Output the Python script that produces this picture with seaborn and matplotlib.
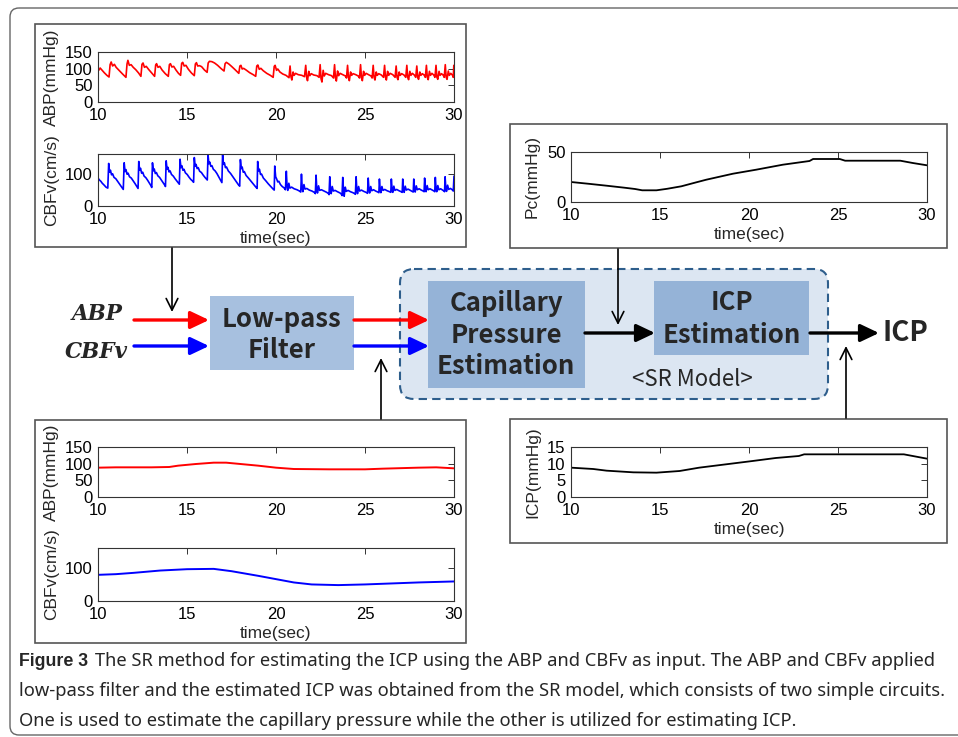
import matplotlib
matplotlib.use("Agg")
import matplotlib.pyplot as plt
import seaborn as sns
import pandas as pd
from matplotlib.patches import FancyBboxPatch, Rectangle, FancyArrowPatch

# ---------------- data ----------------
time_ticks = [10, 15, 20, 25, 30]

abp_raw = [
    (10.00, 100), (10.06, 96), (10.12, 102), (10.20, 97), (10.35, 88), (10.50, 80), (10.62, 75),
    (10.68, 112), (10.74, 120), (10.82, 108), (10.92, 113), (11.02, 104), (11.18, 95), (11.38, 84), (11.57, 74),
    (11.63, 114), (11.68, 125), (11.76, 110), (11.86, 112), (11.98, 104), (12.12, 97), (12.28, 87), (12.41, 77),
    (12.47, 113), (12.53, 117), (12.61, 104), (12.71, 107), (12.84, 98), (13.00, 88), (13.18, 77),
    (13.24, 111), (13.29, 115), (13.37, 104), (13.47, 107), (13.60, 96), (13.78, 85), (13.95, 77),
    (14.01, 112), (14.07, 115), (14.15, 105), (14.25, 107), (14.38, 96), (14.52, 86), (14.64, 80),
    (14.70, 116), (14.76, 119), (14.84, 108), (14.94, 110), (15.08, 98), (15.25, 87), (15.41, 79),
    (15.47, 114), (15.53, 118), (15.60, 108), (15.70, 109), (15.82, 106), (15.98, 96), (16.13, 89),
    (16.19, 117), (16.26, 122), (16.40, 121), (16.55, 117), (16.72, 110), (16.92, 100), (17.08, 93),
    (17.14, 115), (17.21, 119), (17.35, 114), (17.50, 107), (17.68, 98), (17.91, 86),
    (17.97, 108), (18.03, 110), (18.10, 99), (18.18, 101), (18.32, 96), (18.52, 88), (18.72, 82), (18.86, 77),
    (18.92, 108), (18.98, 111), (19.06, 98), (19.15, 101), (19.28, 94), (19.48, 86), (19.68, 80), (19.84, 74),
    (19.90, 107), (19.95, 110), (20.03, 95), (20.10, 99), (20.22, 90), (20.38, 84), (20.56, 80), (20.73, 73),
    (20.79, 108), (20.84, 76), (20.89, 66), (20.96, 90), (21.02, 80), (21.10, 86), (21.25, 82), (21.45, 80), (21.60, 76),
    (21.67, 110), (21.72, 74), (21.77, 64), (21.84, 92), (21.90, 79), (21.98, 85), (22.12, 81), (22.30, 79), (22.42, 74),
    (22.48, 112), (22.53, 70), (22.58, 60), (22.65, 95), (22.71, 78), (22.79, 86), (22.95, 82), (23.12, 79), (23.23, 72),
    (23.29, 112), (23.34, 72), (23.39, 63), (23.46, 93), (23.52, 79), (23.60, 86), (23.75, 82), (23.90, 78), (23.96, 72),
    (24.02, 110), (24.07, 74), (24.12, 64), (24.19, 90), (24.25, 80), (24.33, 85), (24.48, 82), (24.62, 78), (24.69, 72),
    (24.75, 112), (24.80, 73), (24.85, 64), (24.92, 92), (24.98, 80), (25.06, 86), (25.20, 82), (25.34, 78), (25.40, 72),
    (25.46, 110), (25.51, 74), (25.56, 66), (25.63, 90), (25.69, 80), (25.77, 85), (25.92, 81), (26.04, 74),
    (26.10, 110), (26.15, 74), (26.20, 66), (26.27, 92), (26.33, 80), (26.41, 86), (26.56, 82), (26.69, 74),
    (26.75, 108), (26.80, 74), (26.85, 67), (26.92, 90), (26.98, 80), (27.06, 85), (27.19, 81), (27.29, 74),
    (27.35, 110), (27.40, 74), (27.45, 67), (27.52, 92), (27.58, 80), (27.66, 86), (27.77, 81), (27.85, 74),
    (27.91, 108), (27.96, 74), (28.01, 68), (28.08, 90), (28.14, 80), (28.22, 85), (28.32, 81), (28.39, 74),
    (28.45, 110), (28.50, 74), (28.55, 67), (28.62, 92), (28.68, 80), (28.76, 86), (28.86, 81), (28.93, 74),
    (28.99, 110), (29.04, 74), (29.09, 68), (29.16, 92), (29.22, 80), (29.30, 85), (29.40, 80), (29.45, 74),
    (29.51, 112), (29.56, 74), (29.61, 68), (29.68, 93), (29.74, 80), (29.82, 86), (29.92, 80), (29.96, 74),
    (29.99, 110), (30.00, 90),
]

cbfv_raw = [
    (10.00, 86), (10.08, 80), (10.16, 76), (10.24, 70), (10.35, 64), (10.45, 58), (10.55, 55),
    (10.60, 131), (10.65, 104), (10.70, 110), (10.76, 96), (10.82, 99), (10.90, 88), (11.00, 84), (11.10, 76), (11.22, 66), (11.32, 58), (11.42, 51),
    (11.47, 133), (11.52, 106), (11.57, 112), (11.63, 98), (11.69, 101), (11.77, 90), (11.87, 86), (11.97, 78), (12.08, 69), (12.17, 61), (12.25, 54),
    (12.29, 137), (12.34, 110), (12.39, 116), (12.45, 101), (12.51, 104), (12.59, 92), (12.69, 87), (12.79, 79), (12.89, 70), (12.97, 63), (13.02, 57),
    (13.06, 133), (13.11, 108), (13.16, 114), (13.22, 100), (13.28, 103), (13.36, 93), (13.46, 88), (13.56, 80), (13.66, 72), (13.74, 65), (13.79, 60),
    (13.83, 139), (13.88, 113), (13.93, 119), (13.99, 105), (14.05, 108), (14.13, 97), (14.23, 92), (14.33, 84), (14.43, 77), (14.52, 71), (14.57, 67),
    (14.61, 144), (14.66, 118), (14.71, 124), (14.77, 110), (14.83, 113), (14.91, 102), (15.01, 97), (15.11, 89), (15.21, 82), (15.31, 77), (15.37, 73),
    (15.41, 149), (15.46, 122), (15.51, 128), (15.57, 115), (15.63, 118), (15.71, 107), (15.81, 103), (15.91, 95), (16.01, 88), (16.09, 83), (16.14, 80),
    (16.18, 158), (16.23, 130), (16.28, 135), (16.34, 122), (16.40, 124), (16.48, 113), (16.58, 108), (16.68, 100), (16.78, 90), (16.88, 80), (16.96, 72),
    (17.00, 160), (17.05, 128), (17.10, 133), (17.16, 118), (17.22, 120), (17.32, 108), (17.45, 100), (17.60, 88), (17.75, 76), (17.88, 66), (17.96, 61),
    (18.00, 143), (18.05, 115), (18.10, 120), (18.16, 104), (18.22, 106), (18.32, 94), (18.45, 86), (18.60, 76), (18.75, 66), (18.87, 58), (18.94, 54),
    (18.97, 137), (19.02, 108), (19.07, 113), (19.13, 97), (19.19, 98), (19.29, 86), (19.42, 78), (19.57, 68), (19.72, 59), (19.84, 52), (19.90, 49),
    (19.93, 123), (19.98, 90), (20.03, 84), (20.10, 74), (20.16, 76), (20.25, 66), (20.35, 60), (20.45, 56), (20.53, 50),
    (20.58, 107), (20.62, 62), (20.66, 48), (20.72, 70), (20.78, 55), (20.88, 58), (21.02, 53), (21.18, 50), (21.32, 46), (21.39, 43),
    (21.43, 98), (21.47, 58), (21.51, 44), (21.57, 66), (21.63, 52), (21.73, 54), (21.87, 49), (22.02, 46), (22.15, 42), (22.21, 38),
    (22.25, 95), (22.29, 55), (22.33, 40), (22.39, 62), (22.45, 48), (22.55, 50), (22.70, 46), (22.85, 42), (22.95, 38), (22.98, 35),
    (23.02, 90), (23.06, 52), (23.10, 38), (23.16, 60), (23.22, 46), (23.32, 48), (23.45, 44), (23.60, 40), (23.68, 36), (23.71, 32),
    (23.75, 88), (23.79, 50), (23.83, 30), (23.89, 58), (23.95, 45), (24.05, 48), (24.18, 44), (24.32, 41), (24.42, 38), (24.46, 36),
    (24.50, 90), (24.54, 52), (24.58, 38), (24.64, 60), (24.70, 46), (24.80, 49), (24.93, 45), (25.06, 42), (25.14, 39),
    (25.18, 86), (25.22, 52), (25.26, 40), (25.32, 60), (25.38, 47), (25.48, 50), (25.60, 46), (25.72, 43), (25.78, 41),
    (25.81, 83), (25.85, 52), (25.89, 41), (25.95, 60), (26.01, 48), (26.11, 51), (26.24, 47), (26.38, 44), (26.45, 42),
    (26.48, 83), (26.52, 53), (26.56, 42), (26.62, 61), (26.68, 48), (26.78, 51), (26.91, 47), (27.03, 44), (27.09, 42),
    (27.12, 83), (27.16, 53), (27.20, 42), (27.26, 61), (27.32, 49), (27.42, 52), (27.55, 48), (27.66, 45), (27.71, 43),
    (27.74, 83), (27.78, 54), (27.82, 43), (27.88, 62), (27.94, 50), (28.04, 53), (28.16, 49), (28.27, 46), (28.32, 44),
    (28.35, 86), (28.39, 55), (28.43, 44), (28.49, 63), (28.55, 50), (28.65, 53), (28.78, 49), (28.88, 46), (28.92, 44),
    (28.95, 88), (28.99, 55), (29.03, 44), (29.09, 63), (29.15, 50), (29.25, 53), (29.36, 49), (29.44, 46), (29.47, 44),
    (29.50, 90), (29.54, 56), (29.58, 45), (29.64, 64), (29.70, 51), (29.80, 54), (29.90, 50), (29.96, 46), (30.00, 92),
]

pc_t = [10, 11, 12, 13, 13.6, 14.0, 14.8, 15.4, 16.2, 17.0, 17.6, 18.4, 19.1, 20.4, 21.9, 23.4, 23.6, 25.1, 25.4, 28.5, 29.2, 30.0]
pc_v = [20, 18.2, 16.3, 14.3, 13.0, 11.7, 11.7, 13.2, 15.7, 19.5, 22.3, 25.5, 28.3, 32.3, 37.3, 41.0, 43.0, 43.0, 41.3, 41.3, 39.0, 36.7]

abp_f_t = [10, 11, 13, 14, 14.5, 15.5, 16.5, 17.2, 18, 19, 20, 21, 23, 25, 26, 28, 29, 30]
abp_f_v = [88, 89, 89, 90, 94, 99, 103, 103, 99, 94, 88, 84, 83, 83, 85, 88, 89, 86]

cbfv_f_t = [10, 11, 12, 13.5, 15, 16.5, 17.5, 19, 20, 21, 22, 23.5, 25, 27, 28, 30]
cbfv_f_v = [79, 81, 85, 92, 96, 97, 90, 76, 66, 56, 50, 48, 50, 54, 56, 59]

icp_t = [10, 11.25, 12, 13.5, 14.8, 16.1, 17.2, 18.7, 20.2, 21.5, 22.8, 23.1, 28.7, 29.2, 30.0]
icp_v = [8.8, 8.4, 7.9, 7.4, 7.3, 7.8, 8.8, 9.8, 10.8, 11.7, 12.3, 12.8, 12.8, 12.3, 11.5]

caption_bold = "Figure 3"
caption_lines = [
    "The SR method for estimating the ICP using the ABP and CBFv as input. The ABP and CBFv applied",
    "low-pass filter and the estimated ICP was obtained from the SR model, which consists of two simple circuits.",
    "One is used to estimate the capillary pressure while the other is utilized for estimating ICP.",
]

# ---------------- figure ----------------
sns.set_theme(style="white")
plt.rcParams["font.family"] = ["Liberation Sans", "DejaVu Sans"]

W, H = 958, 737
fig = plt.figure(figsize=(W / 100, H / 100), dpi=100)
bg = fig.add_axes([0, 0, 1, 1])
bg.set_xlim(0, W)
bg.set_ylim(H, 0)
bg.axis("off")


def px_axes(x0, y0, x1, y1):
    return fig.add_axes([x0 / W, 1 - y1 / H, (x1 - x0) / W, (y1 - y0) / H])


def style(ax, ylim, yticks, ylabel, xlabel=None):
    ax.set_xlim(10, 30)
    ax.set_ylim(*ylim)
    ax.set_xticks(time_ticks)
    ax.set_yticks(yticks)
    ax.tick_params(direction="in", length=4, width=0.7, top=True, right=True,
                   labelsize=12, pad=4, color="#333333", labelcolor="black")
    ax.tick_params(axis="x", pad=4.5)
    for s in ax.spines.values():
        s.set_visible(True)
        s.set_color("#333333")
        s.set_linewidth(0.8)
    ax.set_ylabel(ylabel, fontsize=12.5, labelpad=2)
    ax.set_xlabel(xlabel if xlabel else "", fontsize=12.5, labelpad=3)
    ax.set_facecolor("white")


# panel frames
frame_kw = dict(fill=False, ec="#555555", lw=1.2)
for (x0, y0, x1, y1) in [(35, 24, 466, 247), (510, 124, 947, 248), (35, 420, 466, 643), (510, 419, 947, 543)]:
    bg.add_patch(Rectangle((x0, y0), x1 - x0, y1 - y0, **frame_kw))

# outer border
bg.add_patch(FancyBboxPatch((10, 8), 980, 727, boxstyle="round,pad=0,rounding_size=9",
                            fc="none", ec="#666666", lw=1.0))

df_abp = pd.DataFrame(abp_raw, columns=["t", "v"])
df_cbfv = pd.DataFrame(cbfv_raw, columns=["t", "v"])

ax1 = px_axes(98, 52, 454, 102)
sns.lineplot(data=df_abp, x="t", y="v", ax=ax1, color="#ff0000", lw=1.2, estimator=None, sort=False)
style(ax1, (0, 150), [0, 50, 100, 150], "ABP(mmHg)")

ax2 = px_axes(98, 154, 454, 206)
sns.lineplot(data=df_cbfv, x="t", y="v", ax=ax2, color="#0000ff", lw=1.2, estimator=None, sort=False)
style(ax2, (0, 160), [0, 100], "CBFv(cm/s)", "time(sec)")

ax3 = px_axes(571, 152, 927, 202)
sns.lineplot(x=pc_t, y=pc_v, ax=ax3, color="black", lw=1.3, estimator=None)
style(ax3, (0, 50), [0, 50], "Pc(mmHg)", "time(sec)")

ax4 = px_axes(98, 447, 454, 497)
sns.lineplot(x=abp_f_t, y=abp_f_v, ax=ax4, color="#ff0000", lw=1.4, estimator=None)
style(ax4, (0, 150), [0, 50, 100, 150], "ABP(mmHg)")

ax5 = px_axes(98, 548, 454, 601)
sns.lineplot(x=cbfv_f_t, y=cbfv_f_v, ax=ax5, color="#0000ff", lw=1.4, estimator=None)
style(ax5, (0, 160), [0, 100], "CBFv(cm/s)", "time(sec)")

ax6 = px_axes(571, 447, 927, 497)
sns.lineplot(x=icp_t, y=icp_v, ax=ax6, color="black", lw=1.3, estimator=None)
style(ax6, (0, 15), [0, 5, 10, 15], "ICP(mmHg)", "time(sec)")

for ax in (ax1, ax2, ax4, ax5):
    ax.yaxis.set_label_coords(-0.11, 0.5)
for ax in (ax3, ax6):
    ax.yaxis.set_label_coords(-0.087, 0.5)

# ---------------- block diagram ----------------
bg.add_patch(FancyBboxPatch((400, 269), 428, 130, boxstyle="round,pad=0,rounding_size=14",
                            fc="#dce6f2", ec="#2e5e8c", lw=1.5, ls=(0, (4, 2.5))))
bg.add_patch(Rectangle((210, 296), 144, 74, fc="#a7c0df", ec="none"))
bg.add_patch(Rectangle((428, 281), 157, 107, fc="#95b3d7", ec="none"))
bg.add_patch(Rectangle((654, 281), 155, 74, fc="#95b3d7", ec="none"))

box_font = ["Noto Sans CJK KR", "DejaVu Sans"]
bfs = 18.5
bg.text(282, 335, "Low-pass\nFilter", ha="center", va="center", fontsize=bfs, fontweight="bold",
        family=box_font, linespacing=1.15)
bg.text(506, 335, "Capillary\nPressure\nEstimation", ha="center", va="center", fontsize=bfs,
        fontweight="bold", family=box_font, linespacing=1.2)
bg.text(732, 319, "ICP\nEstimation", ha="center", va="center", fontsize=bfs, fontweight="bold",
        family=box_font, linespacing=1.25)
bg.text(692, 379, "<SR Model>", ha="center", va="center", fontsize=16, family=box_font)
bg.text(905, 333, "ICP", ha="center", va="center", fontsize=20, fontweight="bold", family=box_font)
bg.text(97, 314, "ABP", ha="center", va="center", fontsize=15.5, fontweight="bold", style="italic",
        family=["DejaVu Serif"])
bg.text(96, 352, "CBFv", ha="center", va="center", fontsize=15.5, fontweight="bold", style="italic",
        family=["DejaVu Serif"])


def arrow(x0, y0, x1, y1, color, lw, thick=True):
    if thick:
        st = "-|>,head_length=0.8,head_width=0.38"
        ms = 14
    else:
        st = "->,head_length=0.7,head_width=0.35"
        ms = 12
    bg.add_patch(FancyArrowPatch((x0, y0), (x1, y1), arrowstyle=st, mutation_scale=ms,
                                 color=color, lw=lw, shrinkA=0, shrinkB=0))


arrow(134, 320, 209, 320, "#ff0000", 2.4)
arrow(134, 346, 209, 346, "#0000ff", 2.4)
arrow(354, 320, 429, 320, "#ff0000", 2.4)
arrow(354, 346, 429, 346, "#0000ff", 2.4)
arrow(585, 333, 655, 333, "black", 2.4)
arrow(810, 333, 879, 333, "black", 2.4)
arrow(172, 248, 172, 312, "black", 1.2, thick=False)
arrow(618, 249, 618, 325, "black", 1.2, thick=False)
arrow(381, 419, 381, 358, "black", 1.2, thick=False)
arrow(846, 418, 846, 346, "black", 1.2, thick=False)

# ---------------- caption ----------------
cap_font = ["Noto Sans", "Liberation Sans", "DejaVu Sans"]
cap_kw = dict(ha="left", va="center", family=cap_font)
fs = 13.0
# bold "Figure 3" scaled to its width in the reference (x 19 .. 88)
tb = bg.text(19, 661, caption_bold, fontsize=fs, fontweight="bold", ha="left", va="center",
             family=["Liberation Sans", "DejaVu Sans"])
fig.canvas.draw()
r = fig.canvas.get_renderer()
bw = tb.get_window_extent(r).width
tb.set_fontsize(fs * 69.0 / bw)
# regular caption text, condensed, scaled so that line 1 ends at x 940
t1 = bg.text(95, 661, caption_lines[0], fontsize=fs, fontstretch="condensed", **cap_kw)
fig.canvas.draw()
w1 = t1.get_window_extent(r).width
fs2 = fs * (940 - 95) / w1
t1.set_fontsize(fs2)
bg.text(19, 691, caption_lines[1], fontsize=fs2, fontstretch="condensed", **cap_kw)
bg.text(19, 721, caption_lines[2], fontsize=fs2, fontstretch="condensed", **cap_kw)

fig.savefig("out.png", dpi=100)
